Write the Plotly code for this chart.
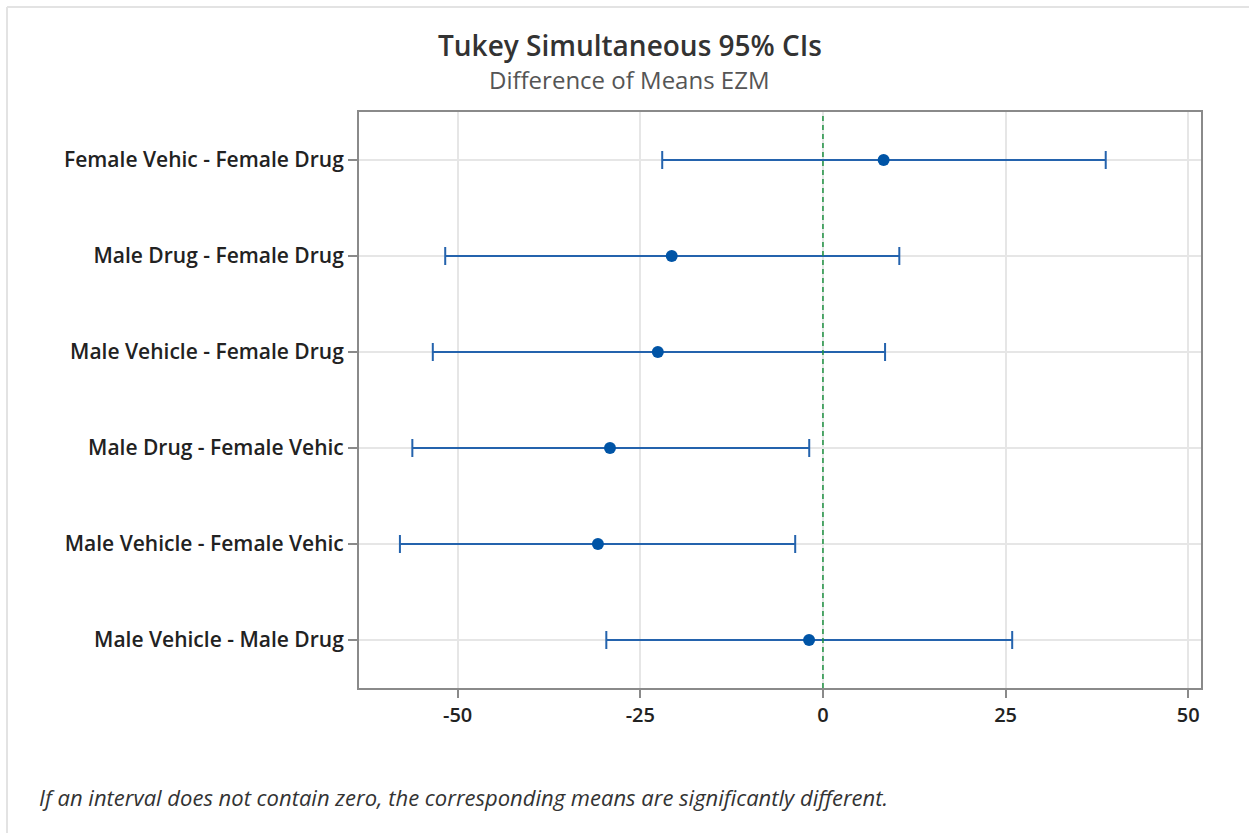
import plotly.graph_objects as go

comparisons = [
    "Female Vehic - Female Drug",
    "Male Drug - Female Drug",
    "Male Vehicle - Female Drug",
    "Male Drug - Female Vehic",
    "Male Vehicle - Female Vehic",
    "Male Vehicle - Male Drug",
]
means = [8.3, -20.7, -22.6, -29.15, -30.8, -1.9]
lower = [-22.0, -51.7, -53.4, -56.2, -57.9, -29.65]
upper = [38.7, 10.45, 8.5, -1.88, -3.8, 25.9]
x_ticks = [-50, -25, 0, 25, 50]

plus = [u - m for u, m in zip(upper, means)]
minus = [m - l for m, l in zip(means, lower)]

W, H = 1249, 833
L, R, T, B = 359, 1201, 112, 688

def px(xp):
    return (xp - L) / (R - L)

def py(yp):
    return (B - yp) / (B - T)

fig = go.Figure()
fig.add_trace(go.Scatter(
    x=means, y=comparisons, mode="markers",
    marker=dict(color="#0054a6", size=12, symbol="circle"),
    error_x=dict(type="data", symmetric=False, array=plus, arrayminus=minus,
                 color="#2463ad", thickness=2, width=9),
    showlegend=False, hoverinfo="x+y",
))

font_main = "Open Sans, Noto Sans, sans-serif"

fig.update_layout(
    width=W, height=H,
    margin=dict(l=L, r=W - R, t=T, b=H - B),
    paper_bgcolor="white", plot_bgcolor="white",
    font=dict(family=font_main, color="#222222"),
    xaxis=dict(
        range=[-63.5, 51.74], tickvals=x_ticks, ticktext=[str(v) for v in x_ticks],
        showgrid=True, gridcolor="#e6e6e6", gridwidth=1.5, zeroline=False,
        showline=True, linecolor="#8a8a8a", linewidth=2, mirror=True,
        ticks="outside", ticklen=8, tickcolor="#8a8a8a", tickwidth=1.5,
        tickfont=dict(size=20, color="#222222", weight=600),
    ),
    yaxis=dict(
        type="category", categoryorder="array", categoryarray=comparisons,
        range=[5.5, -0.5],
        showgrid=True, gridcolor="#e6e6e6", gridwidth=1.5, zeroline=False,
        showline=True, linecolor="#8a8a8a", linewidth=2, mirror=True,
        ticks="outside", ticklen=9, tickcolor="#8a8a8a", tickwidth=1.5,
        tickfont=dict(size=21, color="#222222", weight=600),
    ),
    shapes=[
        dict(type="line", xref="x", yref="paper", x0=0, x1=0, y0=0, y1=1,
             line=dict(color="#1e9141", width=1.5, dash="5px,4px")),
        dict(type="line", xref="paper", yref="paper", x0=px(7), x1=px(W + 5),
             y0=py(7), y1=py(7), line=dict(color="#e3e3e3", width=2)),
        dict(type="line", xref="paper", yref="paper", x0=px(7), x1=px(7),
             y0=py(7), y1=py(H + 5), line=dict(color="#e3e3e3", width=2)),
    ],
    annotations=[
        dict(text="Tukey Simultaneous 95% CIs", xref="paper", yref="paper",
             x=px(630), y=py(45), xanchor="center", yanchor="middle", showarrow=False,
             font=dict(size=28, color="#333333", family=font_main, weight=600)),
        dict(text="Difference of Means EZM", xref="paper", yref="paper",
             x=px(629), y=py(80), xanchor="center", yanchor="middle", showarrow=False,
             font=dict(size=24, color="#555555", family=font_main)),
        dict(text="<i>If an interval does not contain zero, the corresponding means are significantly different.</i>",
             xref="paper", yref="paper", x=px(37), y=py(797), xanchor="left", yanchor="middle",
             showarrow=False, font=dict(size=22, color="#333333", family=font_main)),
    ],
)

fig.write_html("out.html")
